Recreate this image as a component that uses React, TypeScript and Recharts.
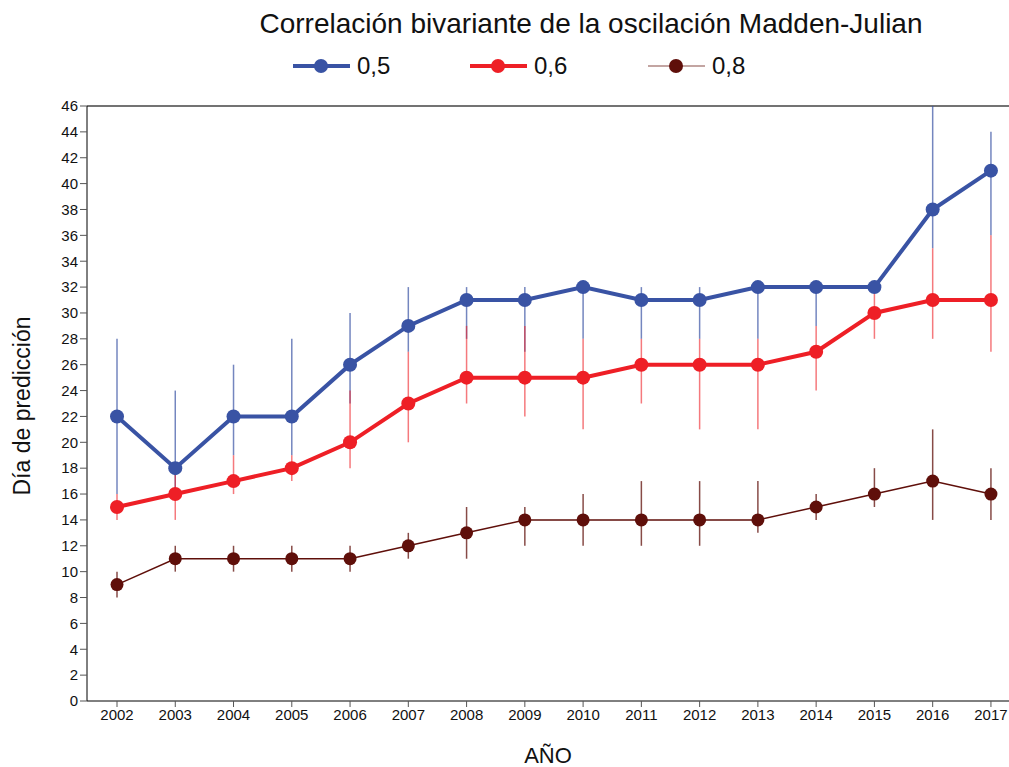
import React from "react";
import {
  LineChart,
  Line,
  XAxis,
  YAxis,
  ErrorBar,
  ReferenceLine,
} from "recharts";

const years = [2002, 2003, 2004, 2005, 2006, 2007, 2008, 2009, 2010, 2011, 2012, 2013, 2014, 2015, 2016, 2017];

// correlación 0,5
const s05 = [22, 18, 22, 22, 26, 29, 31, 31, 32, 31, 31, 32, 32, 32, 38, 41];
const s05Low = [16, 16, 19, 19, 23, 27, 28, 27, 28, 28, 28, 28, 29, 32, 35, 36];
const s05High = [28, 24, 26, 28, 30, 32, 32, 32, 32, 32, 32, 32, 32, 32, 46, 44];

// correlación 0,6
const s06 = [15, 16, 17, 18, 20, 23, 25, 25, 25, 26, 26, 26, 27, 30, 31, 31];
const s06Low = [14, 14, 16, 17, 18, 20, 23, 22, 21, 23, 21, 21, 24, 28, 28, 27];
const s06High = [16, 18, 19, 19, 24, 27, 29, 29, 28, 28, 28, 28, 29, 32, 35, 36];

// correlación 0,8
const s08 = [9, 11, 11, 11, 11, 12, 13, 14, 14, 14, 14, 14, 15, 16, 17, 16];
const s08Low = [8, 10, 10, 10, 10, 11, 11, 12, 12, 12, 12, 13, 14, 15, 14, 14];
const s08High = [10, 12, 12, 12, 12, 13, 15, 15, 16, 17, 17, 17, 16, 18, 21, 18];

const yTicks = [0, 2, 4, 6, 8, 10, 12, 14, 16, 18, 20, 22, 24, 26, 28, 30, 32, 34, 36, 38, 40, 42, 44, 46];

const BLUE = "#3953a4";
const RED = "#ee1f26";
const MAROON = "#5f0f0a";
const FONT = "'Liberation Sans', Arial, Helvetica, sans-serif";

const data = years.map((year, i) => ({
  year,
  a: s05[i],
  aErr: [s05[i] - s05Low[i], s05High[i] - s05[i]],
  b: s06[i],
  bErr: [s06[i] - s06Low[i], s06High[i] - s06[i]],
  c: s08[i],
  cErr: [s08[i] - s08Low[i], s08High[i] - s08[i]],
}));

const legendItems = [
  { label: "0,5", color: BLUE, width: 4, opacity: 1, x: 293 },
  { label: "0,6", color: RED, width: 4, opacity: 1, x: 470 },
  { label: "0,8", color: MAROON, width: 1.5, opacity: 0.5, x: 648 },
];

const tickStyle = { fontSize: 15, fill: "#111", fontFamily: FONT };

export default function App() {
  return (
    <div
      style={{
        position: "absolute",
        left: 0,
        top: 0,
        width: 1009,
        height: 767,
        overflow: "hidden",
        background: "#fff",
        fontFamily: FONT,
        color: "#111",
      }}
    >
      <div
        style={{
          position: "absolute",
          left: 0,
          width: 1182,
          top: 7,
          textAlign: "center",
          fontSize: 28,
          lineHeight: "34px",
        }}
      >
        Correlación bivariante de la oscilación Madden-Julian
      </div>

      {legendItems.map((it) => (
        <div
          key={it.label}
          style={{ position: "absolute", left: it.x, top: 50, height: 32, display: "flex", alignItems: "center" }}
        >
          <svg width={58} height={20}>
            <line
              x1={0}
              y1={10}
              x2={57}
              y2={10}
              stroke={it.color}
              strokeWidth={it.width}
              strokeOpacity={it.opacity}
            />
            <circle cx={28} cy={10} r={7} fill={it.color} />
          </svg>
          <span style={{ fontSize: 24, marginLeft: 6 }}>{it.label}</span>
        </div>
      ))}

      <LineChart
        width={1009}
        height={767}
        data={data}
        margin={{ top: 106, right: 0, bottom: 36, left: 27 }}
      >
        <XAxis
          dataKey="year"
          type="number"
          domain={[2001.485, 2017.31]}
          ticks={years}
          allowDataOverflow
          tick={tickStyle}
          tickSize={6}
          stroke="#000"
          tickLine={{ stroke: "#555" }}
          height={30}
        />
        <YAxis
          type="number"
          domain={[0, 46]}
          ticks={yTicks}
          interval={0}
          allowDataOverflow
          tick={tickStyle}
          tickSize={7}
          stroke="#000"
          tickLine={{ stroke: "#555" }}
          width={60}
        />
        <ReferenceLine y={46} stroke="#444" strokeWidth={1.5} />
        <Line
          dataKey="a"
          stroke={BLUE}
          strokeWidth={4}
          dot={{ r: 7, fill: BLUE, stroke: "none" }}
          isAnimationActive={false}
        >
          <ErrorBar dataKey="aErr" width={0} stroke={BLUE} strokeWidth={1.5} strokeOpacity={0.7} direction="y" />
        </Line>
        <Line
          dataKey="b"
          stroke={RED}
          strokeWidth={4}
          dot={{ r: 7, fill: RED, stroke: "none" }}
          isAnimationActive={false}
        >
          <ErrorBar dataKey="bErr" width={0} stroke={RED} strokeWidth={1.5} strokeOpacity={0.6} direction="y" />
        </Line>
        <Line
          dataKey="c"
          stroke={MAROON}
          strokeWidth={1.5}
          dot={{ r: 6.5, fill: MAROON, stroke: "none" }}
          isAnimationActive={false}
        >
          <ErrorBar dataKey="cErr" width={0} stroke={MAROON} strokeWidth={1.5} strokeOpacity={0.75} direction="y" />
        </Line>
      </LineChart>

      <div
        style={{
          position: "absolute",
          left: 22,
          top: 406,
          transform: "translate(-50%, -50%) rotate(-90deg)",
          fontSize: 23,
          whiteSpace: "nowrap",
        }}
      >
        Día de predicción
      </div>
      <div
        style={{
          position: "absolute",
          left: 548,
          top: 756,
          transform: "translate(-50%, -50%)",
          fontSize: 22,
          whiteSpace: "nowrap",
        }}
      >
        AÑO
      </div>
    </div>
  );
}
